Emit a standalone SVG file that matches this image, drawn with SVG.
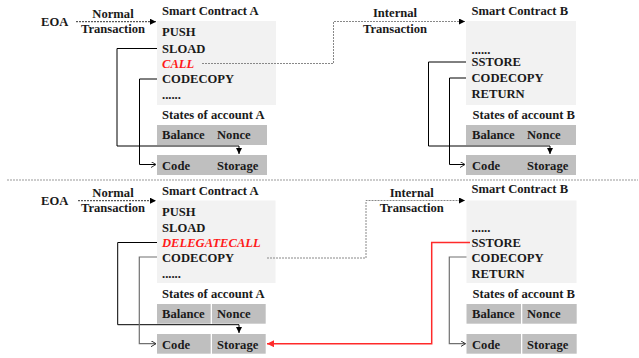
<svg xmlns="http://www.w3.org/2000/svg" width="639" height="358" viewBox="0 0 639 358">
<defs>
<style>
text{font-family:"Liberation Serif","Times New Roman",serif;font-weight:bold;font-size:12.6px;fill:#1a1a1a}
.mid{text-anchor:middle}
.red{fill:#ff1a1a;font-style:italic}
.code{fill:#f2f2f2}
.state{fill:#bfbfbf}
.solid{fill:none;stroke:#000;stroke-width:1}
.grey{fill:none;stroke:#707070;stroke-width:1.2}
.dash{fill:none;stroke:#333;stroke-width:1;stroke-dasharray:2,1}
.gdash{fill:none;stroke:#888;stroke-width:1;stroke-dasharray:2,1}
.sep{fill:none;stroke:#999;stroke-width:1;stroke-dasharray:2,1}
.redl{fill:none;stroke:#ff2a2a;stroke-width:1.5}
</style>
<marker id="tri" markerUnits="userSpaceOnUse" markerWidth="8" markerHeight="8" refX="6" refY="3" orient="auto"><path d="M0,0 L6,3 L0,6 z" fill="#000"/></marker>
<marker id="open" markerUnits="userSpaceOnUse" markerWidth="8" markerHeight="8" refX="5" refY="3" orient="auto"><path d="M0,0 L5,3 L0,6" fill="none" stroke="#333" stroke-width="1"/></marker>
<marker id="redtri" markerUnits="userSpaceOnUse" markerWidth="10" markerHeight="10" refX="7" refY="3.5" orient="auto"><path d="M0,0 L7,3.5 L0,7 z" fill="#ff2a2a"/></marker>
</defs>

<!-- ===== Top scenario ===== -->
<g id="eoa1"><text x="41" y="26">EOA</text></g>
<g id="contractA1">
<text x="162" y="15">Smart Contract A</text>
<rect class="code" x="157" y="21" width="119" height="84"/>
<text x="162" y="36">PUSH</text>
<text x="162" y="52.5">SLOAD</text>
<text class="red" x="162" y="67.5">CALL</text>
<text x="162" y="83">CODECOPY</text>
<text x="162" y="99">......</text>
</g>
<g id="statesA1">
<text x="162" y="119">States of account A</text>
<rect class="state" x="157" y="125" width="110" height="20"/>
<text x="162" y="139">Balance</text>
<text x="217" y="139">Nonce</text>
<rect class="state" x="157" y="155" width="110" height="20"/>
<text x="162" y="169.5">Code</text>
<text x="217" y="169.5">Storage</text>
</g>
<g id="contractB1">
<text x="471.5" y="15">Smart Contract B</text>
<rect class="code" x="466" y="21" width="110" height="84"/>
<text x="471.5" y="53.5">......</text>
<text x="471.5" y="66">SSTORE</text>
<text x="471.5" y="82">CODECOPY</text>
<text x="471.5" y="98">RETURN</text>
</g>
<g id="statesB1">
<text x="472.5" y="119">States of account B</text>
<rect class="state" x="466" y="125" width="110" height="20"/>
<text x="472" y="139">Balance</text>
<text x="527" y="139">Nonce</text>
<rect class="state" x="466" y="155" width="110" height="20"/>
<text x="472" y="169.5">Code</text>
<text x="527" y="169.5">Storage</text>
</g>

<!-- ===== Bottom scenario ===== -->
<g id="eoa2"><text x="41" y="204.5">EOA</text></g>
<g id="contractA2">
<text x="162" y="194.5">Smart Contract A</text>
<rect class="code" x="157" y="200.5" width="118.5" height="82.5"/>
<text x="162" y="215.5">PUSH</text>
<text x="162" y="231.5">SLOAD</text>
<text class="red" x="162" y="246.5">DELEGATECALL</text>
<text x="162" y="262">CODECOPY</text>
<text x="162" y="278">......</text>
</g>
<g id="statesA2">
<text x="162" y="298">States of account A</text>
<rect class="state" x="157" y="304" width="53.7" height="19.7"/>
<rect class="state" x="212" y="304" width="53.7" height="19.7"/>
<text x="162" y="318">Balance</text>
<text x="217" y="318">Nonce</text>
<rect class="state" x="157" y="334" width="53.7" height="19.7"/>
<rect class="state" x="212" y="334" width="53.7" height="19.7"/>
<text x="162" y="348.5">Code</text>
<text x="217" y="348.5">Storage</text>
</g>
<g id="contractB2">
<text x="471.5" y="193">Smart Contract B</text>
<rect class="code" x="466.5" y="200.5" width="110" height="82.5"/>
<text x="471.5" y="231.5">......</text>
<text x="471.5" y="246.5">SSTORE</text>
<text x="471.5" y="262">CODECOPY</text>
<text x="471.5" y="277.5">RETURN</text>
</g>
<g id="statesB2">
<text x="472.5" y="297.5">States of account B</text>
<rect class="state" x="466.5" y="304" width="54.5" height="19.7"/>
<rect class="state" x="522.3" y="304" width="54.4" height="19.7"/>
<text x="472" y="318">Balance</text>
<text x="527" y="318">Nonce</text>
<rect class="state" x="466.5" y="334" width="54.5" height="19.7"/>
<rect class="state" x="522.3" y="334" width="54.4" height="19.7"/>
<text x="472" y="348.5">Code</text>
<text x="527" y="348.5">Storage</text>
</g>

<!-- ===== Connectors ===== -->
<g id="connectors">
<line class="sep" x1="7" y1="180" x2="638" y2="180"/>
<!-- top -->
<path class="dash" d="M76,21.7 H156" marker-end="url(#tri)"/>
<text class="mid" x="113" y="17.5">Normal</text>
<text class="mid" x="113" y="33">Transaction</text>
<path class="solid" d="M157,48.5 H117 V146 H239 V154" marker-end="url(#tri)"/>
<path class="solid" d="M157,79 H139.5 V164.5 H156" marker-end="url(#open)"/>
<path class="gdash" d="M202,63.5 H333.5 V21.5 H465" marker-end="url(#tri)"/>
<text class="mid" x="395" y="17">Internal</text>
<text class="mid" x="395" y="32.5">Transaction</text>
<path class="solid" d="M466,62 H428.5 V146 H550 V154" marker-end="url(#tri)"/>
<path class="solid" d="M466,78 H449.5 V164.5 H465" marker-end="url(#open)"/>
<!-- bottom -->
<path class="dash" d="M78,200.7 H156" marker-end="url(#tri)"/>
<text class="mid" x="113" y="196.5">Normal</text>
<text class="mid" x="113" y="211.5">Transaction</text>
<path class="solid" d="M157,242.5 H117.7 V324.7 H239 V333" marker-end="url(#tri)"/>
<path class="grey" d="M157,257 H139.3 V343.7 H156" marker-end="url(#open)"/>
<path class="gdash" d="M267,258 H366 V200.5 H465" marker-end="url(#tri)"/>
<text class="mid" x="411.7" y="196.5">Internal</text>
<text class="mid" x="411.7" y="211.5">Transaction</text>
<path class="grey" d="M466.5,257 H449.3 V343.7 H465.5" marker-end="url(#open)"/>
<path class="redl" d="M470,242.5 H431.7 V343.7 H267" marker-end="url(#redtri)"/>
</g>
</svg>
